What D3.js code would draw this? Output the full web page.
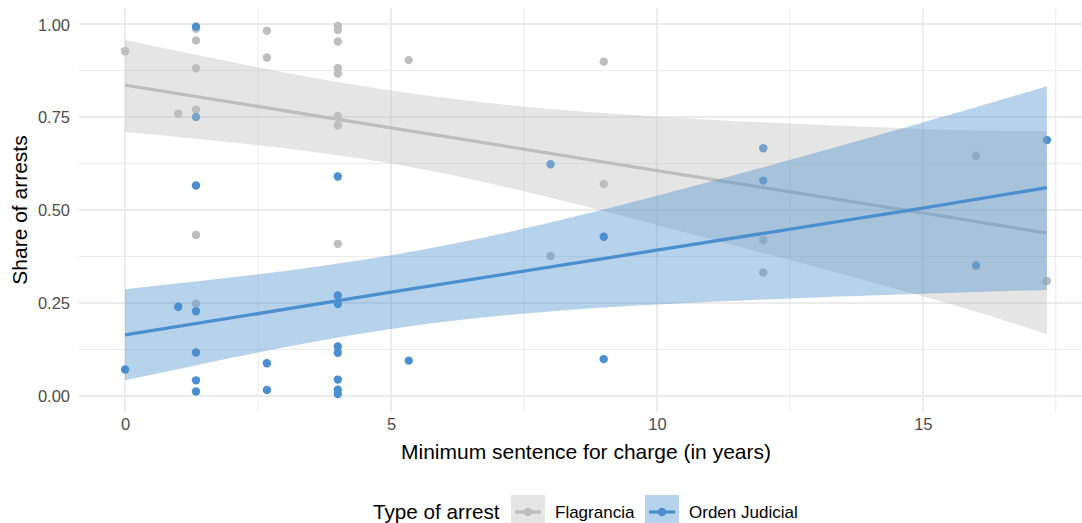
<!doctype html>
<html>
  <head>
    <meta charset="utf-8">
    <script src="https://cdn.jsdelivr.net/npm/d3@7"></script>
    <style>
      body { margin: 0; background: white; }
      svg { display: block; font-family: "Liberation Sans", Arial, sans-serif; }
      .tick line, .domain { display: none; }
      .tick text { fill: #4d4d4d; font-size: 16.5px; }
    </style>
  </head>
  <body>
    <svg class="chart"></svg>
    <script>
      // points (share of arrests by minimum sentence, in years)
      const flagranciaX = [0, 1, 1.333, 1.333, 1.333, 1.333, 1.333, 1.333, 2.667, 2.667,
                           4, 4, 4, 4, 4, 4, 4, 4, 5.333, 8, 9, 9, 12, 12, 16, 17.333]
      const flagranciaY = [0.927, 0.759, 0.987, 0.956, 0.881, 0.770, 0.433, 0.248, 0.982, 0.910,
                           0.995, 0.984, 0.953, 0.882, 0.867, 0.753, 0.728, 0.409, 0.903, 0.376,
                           0.899, 0.570, 0.419, 0.332, 0.646, 0.309]
      const ordenX = [0, 1, 1.333, 1.333, 1.333, 1.333, 1.333, 1.333, 1.333, 2.667, 2.667,
                      4, 4, 4, 4, 4, 4, 4, 4, 5.333, 8, 9, 9, 12, 12, 16, 17.333]
      const ordenY = [0.071, 0.240, 0.993, 0.750, 0.566, 0.228, 0.117, 0.042, 0.012, 0.088, 0.016,
                      0.590, 0.270, 0.247, 0.133, 0.116, 0.044, 0.017, 0.005, 0.095, 0.623,
                      0.428, 0.099, 0.666, 0.579, 0.351, 0.688]

      // linear fit and confidence band, read at a few x positions
      const smoothX = [0, 5, 10, 15, 17.333]
      const flagFit = [0.836, 0.721, 0.606, 0.492, 0.438]
      const flagLow = [0.710, 0.625, 0.460, 0.268, 0.166]
      const flagHigh = [0.957, 0.821, 0.751, 0.718, 0.712]
      const ordenFit = [0.164, 0.279, 0.392, 0.505, 0.560]
      const ordenLow = [0.042, 0.180, 0.246, 0.275, 0.285]
      const ordenHigh = [0.287, 0.378, 0.538, 0.735, 0.833]

      const xTicks = [0, 5, 10, 15]
      const xMinor = [2.5, 7.5, 12.5, 17.5]
      const yTicks = [0, 0.25, 0.5, 0.75, 1]
      const yMinor = [0.125, 0.375, 0.625, 0.875]

      const series = [
        { name: "Flagrancia", xs: flagranciaX, ys: flagranciaY, fit: flagFit, lo: flagLow, hi: flagHigh,
          color: "#bebebe", fill: "#bebebe" },
        { name: "Orden Judicial", xs: ordenX, ys: ordenY, fit: ordenFit, lo: ordenLow, hi: ordenHigh,
          color: "#4a90d0", fill: "#4a90d0" }
      ]

      const W = 1082, H = 523
      const panel = { left: 79, right: 1093, top: 7.5, bottom: 412.5 }

      const x = d3.scaleLinear().domain([-0.8665, 18.2]).range([panel.left, panel.right])
      const y = d3.scaleLinear().domain([-0.0445, 1.0445]).range([panel.bottom, panel.top])

      const svg = d3.select(".chart").attr("width", W).attr("height", H)

      // grid
      const grid = svg.append("g")
      grid.selectAll(".ym").data(yMinor).enter().append("line")
        .attr("x1", panel.left).attr("x2", panel.right)
        .attr("y1", d => y(d)).attr("y2", d => y(d))
        .attr("stroke", "#ebebeb").attr("stroke-width", 1.1)
      grid.selectAll(".xm").data(xMinor).enter().append("line")
        .attr("y1", panel.top).attr("y2", panel.bottom)
        .attr("x1", d => x(d)).attr("x2", d => x(d))
        .attr("stroke", "#ebebeb").attr("stroke-width", 1.1)
      grid.selectAll(".yM").data(yTicks).enter().append("line")
        .attr("x1", panel.left).attr("x2", panel.right)
        .attr("y1", d => y(d)).attr("y2", d => y(d))
        .attr("stroke", "#ebebeb").attr("stroke-width", 2)
      grid.selectAll(".xM").data(xTicks).enter().append("line")
        .attr("y1", panel.top).attr("y2", panel.bottom)
        .attr("x1", d => x(d)).attr("x2", d => x(d))
        .attr("stroke", "#ebebeb").attr("stroke-width", 2)

      // points (drawn under the smooth layers)
      series.forEach(s => {
        svg.append("g").selectAll("circle")
          .data(s.xs.map((v, i) => [v, s.ys[i]]))
          .enter().append("circle")
            .attr("cx", d => x(d[0]))
            .attr("cy", d => y(d[1]))
            .attr("r", 4.2)
            .attr("fill", s.color)
      })

      // ribbons + fitted lines
      series.forEach(s => {
        const rows = smoothX.map((v, i) => ({ x: v, fit: s.fit[i], lo: s.lo[i], hi: s.hi[i] }))
        const area = d3.area().curve(d3.curveNatural)
          .x(d => x(d.x)).y0(d => y(d.lo)).y1(d => y(d.hi))
        const line = d3.line().x(d => x(d.x)).y(d => y(d.fit))
        svg.append("path").datum(rows).attr("d", area)
          .attr("fill", s.fill).attr("fill-opacity", 0.4)
        svg.append("path").datum(rows).attr("d", line)
          .attr("fill", "none").attr("stroke", s.color).attr("stroke-width", 3.3)
      })

      // axes
      svg.append("g")
        .attr("transform", "translate(0," + panel.bottom + ")")
        .call(d3.axisBottom(x).tickValues(xTicks).tickSize(0).tickPadding(6))
      svg.append("g")
        .attr("transform", "translate(" + (panel.left - 9) + ",0)")
        .call(d3.axisLeft(y).tickValues(yTicks).tickFormat(d3.format(".2f")).tickSize(0).tickPadding(0))
        .selectAll("text").attr("dy", "0.36em")

      svg.append("text")
        .attr("x", (panel.left + panel.right) / 2).attr("y", 459)
        .attr("text-anchor", "middle").attr("font-size", 21)
        .text("Minimum sentence for charge (in years)")

      svg.append("text")
        .attr("transform", "translate(27," + (panel.top + panel.bottom) / 2 + ") rotate(-90)")
        .attr("text-anchor", "middle").attr("font-size", 21)
        .text("Share of arrests")

      // legend
      const legend = svg.append("g").attr("transform", "translate(0,512)")
      legend.append("text").attr("x", 373).attr("y", 7.4).attr("font-size", 20.7).text("Type of arrest")
      const keyX = [511, 645]
      series.forEach((s, i) => {
        const k = legend.append("g").attr("transform", "translate(" + keyX[i] + ",0)")
        k.append("rect").attr("x", 0).attr("y", -17).attr("width", 34).attr("height", 34)
          .attr("fill", s.fill).attr("fill-opacity", 0.4)
        k.append("line").attr("x1", 4).attr("x2", 30).attr("y1", 0).attr("y2", 0)
          .attr("stroke", s.color).attr("stroke-width", 3.3)
        k.append("circle").attr("cx", 17).attr("cy", 0).attr("r", 4.2).attr("fill", s.color)
        k.append("text").attr("x", 44).attr("y", 6).attr("font-size", 17).text(s.name)
      })
    </script>
  </body>
</html>
